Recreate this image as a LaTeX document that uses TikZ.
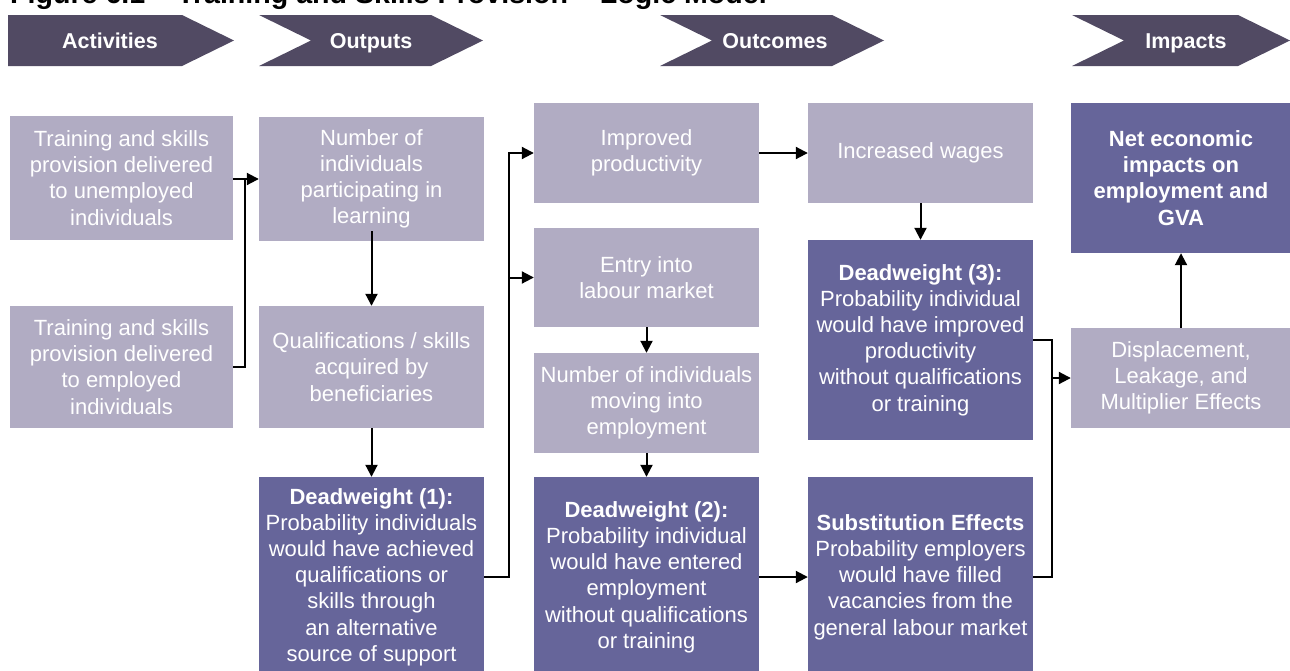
\documentclass[tikz,border=0pt]{standalone}
\usepackage{fontspec}
\setmainfont{Liberation Sans}
\usetikzlibrary{arrows.meta,calc}
\definecolor{lightbox}{HTML}{B1ACC3}
\definecolor{darkbox}{HTML}{66659A}
\definecolor{chev}{HTML}{514A63}
\begin{document}
\begin{tikzpicture}[x=1pt,y=-1pt,
  box/.style={rectangle, inner sep=0pt, align=center, text=white, font=\fontsize{22}{26.2}\selectfont},
  lbox/.style={box, fill=lightbox},
  dbox/.style={box, fill=darkbox},
  conn/.style={line width=2pt, line join=miter, -{Triangle[length=12pt,width=12pt]}},
  plain/.style={line width=2pt, line join=miter},
  chevlabel/.style={anchor=base, text=white, inner sep=0pt, font=\fontsize{21.5}{24}\selectfont\bfseries},
  chevfill/.style={fill=chev}]
\clip (0,0) rectangle (1290,670);
\fill[white] (0,0) rectangle (1290,670);

% title (cut off at the top, as in the reference)
\node[anchor=base west, inner sep=0pt, font=\fontsize{28.6}{30}\selectfont\bfseries] (title) at (10,3.5) {Figure 6.1 – Training and Skills Provision – Logic Model};

% chevrons
\fill[chevfill] (8,15) -- (182,15) -- (234,40.5) -- (182,66) -- (8,66) -- cycle;
\fill[chevfill] (259,15) -- (431,15) -- (483,40.5) -- (431,66) -- (259,66) -- (311,40.5) -- cycle;
\fill[chevfill] (660,15) -- (832,15) -- (884,40.5) -- (832,66) -- (660,66) -- (712,40.5) -- cycle;
\fill[chevfill] (1072,15) -- (1238,15) -- (1290,40.5) -- (1238,66) -- (1072,66) -- (1124,40.5) -- cycle;
\node[chevlabel] (hact) at (110,48.5) {Activities};
\node[chevlabel] (hout) at (371,48.5) {Outputs};
\node[chevlabel] (hoc) at (775,48.5) {Outcomes};
\node[chevlabel] (himp) at (1186,48.5) {Impacts};

% activities
\node[lbox, minimum width=223pt, minimum height=124pt] (A1) at (121.5,178) {Training and skills\\provision delivered\\to unemployed\\individuals};
\node[lbox, minimum width=223pt, minimum height=122pt] (A2) at (121.5,367) {Training and skills\\provision delivered\\to employed\\individuals};

% outputs
\node[lbox, minimum width=225pt, minimum height=124pt] (O1) at (371.5,179) {Number of\\individuals\\participating in\\learning};
\node[lbox, minimum width=225pt, minimum height=122pt] (O2) at (371.5,367) {Qualifications / skills\\acquired by\\beneficiaries};
\node[dbox, minimum width=225pt, minimum height=200pt] (O3) at (371.5,577) {\textbf{Deadweight (1):}\\Probability individuals\\would have achieved\\qualifications or\\skills through\\an alternative\\source of support};

% outcomes
\node[lbox, minimum width=225pt, minimum height=100pt] (C1) at (646.5,153) {Improved\\productivity};
\node[lbox, minimum width=225pt, minimum height=99pt] (C2) at (646.5,277.5) {Entry into\\labour market};
\node[lbox, minimum width=225pt, minimum height=100pt] (C3) at (646.5,403) {Number of individuals\\moving into\\employment};
\node[dbox, minimum width=225pt, minimum height=200pt] (C4) at (646.5,577) {\textbf{Deadweight (2):}\\Probability individual\\would have entered\\employment\\without qualifications\\or training};

\node[lbox, minimum width=225pt, minimum height=100pt] (D1) at (920.5,153) {Increased wages};
\node[dbox, minimum width=225pt, minimum height=200pt] (D2) at (920.5,340) {\textbf{Deadweight (3):}\\Probability individual\\would have improved\\productivity\\without qualifications\\or training};
\node[dbox, minimum width=225pt, minimum height=200pt] (D3) at (920.5,577) {\textbf{Substitution Effects}\\Probability employers\\would have filled\\vacancies from the\\general labour market};

% impacts
\node[dbox, minimum width=220pt, minimum height=150pt] (I1) at (1181,178) {\textbf{Net economic}\\\textbf{impacts on}\\\textbf{employment and}\\\textbf{GVA}};
\node[lbox, minimum width=220pt, minimum height=100pt] (I2) at (1181,378) {Displacement,\\Leakage, and\\Multiplier Effects};

% connectors
\coordinate (j1) at (245,179);
\draw[conn] (A1.east |- O1.west) -- (O1.west);
\draw[plain] (A2.east) -| (j1);
\draw[conn] ($(O1.south)+(0,-10)$) -- (O2.north);
\draw[conn] (O2.south) -- (O3.north);
\coordinate (j2) at ($(C1.west)+(-25,0)$);
\draw[conn] (O3.east) -| (j2) -- (C1.west);
\draw[conn] (j2 |- C2.west) -- (C2.west);
\draw[conn] (C1.east) -- (D1.west);
\draw[conn] (C2.south) -- (C3.north);
\draw[conn] (C3.south) -- (C4.north);
\draw[conn] (C4.east) -- (D3.west);
\draw[conn] (D1.south) -- (D2.north);
\coordinate (j3) at (1052,340);
\draw[plain] (D2.east) -- (j3) |- (D3.east);
\draw[conn] (j3 |- I2.west) -- (I2.west);
\draw[conn] (I2.north) -- (I1.south);
\end{tikzpicture}
\end{document}
